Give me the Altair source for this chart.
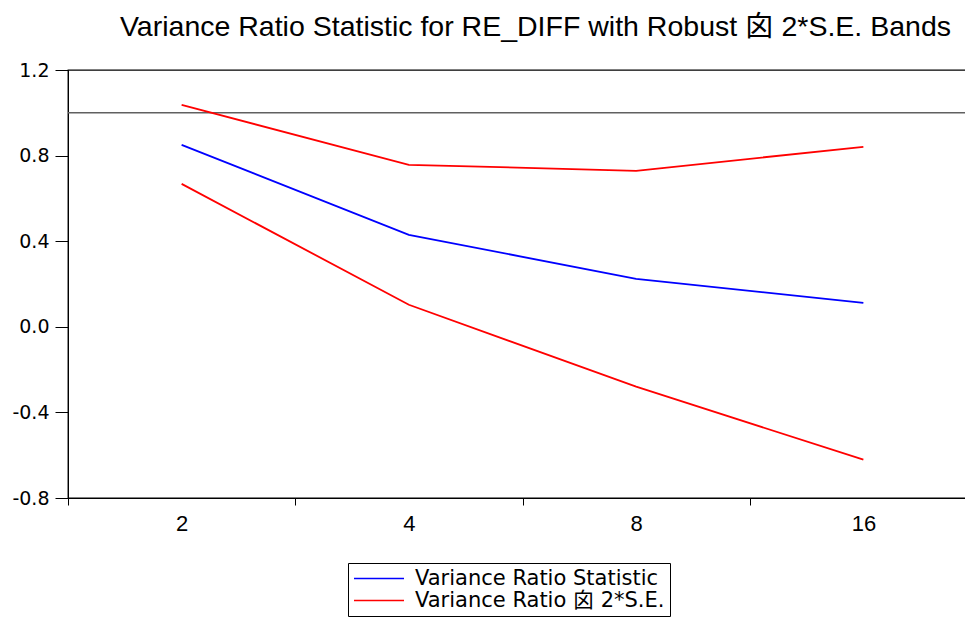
import altair as alt
import pandas as pd

lags = ["2", "4", "8", "16"]
vr_stat = [0.850, 0.430, 0.224, 0.112]
upper_band = [1.037, 0.757, 0.729, 0.841]
lower_band = [0.668, 0.103, -0.280, -0.621]

s_stat = "Variance Ratio Statistic"
s_band = "Variance Ratio 囟 2*S.E."
title_text = "Variance Ratio Statistic for RE_DIFF with Robust 囟 2*S.E. Bands"

rows = []
for i, lag in enumerate(lags):
    rows.append({"lag": lag, "value": vr_stat[i], "series": s_stat, "line": "stat"})
    rows.append({"lag": lag, "value": upper_band[i], "series": s_band, "line": "upper"})
    rows.append({"lag": lag, "value": lower_band[i], "series": s_band, "line": "lower"})
df = pd.DataFrame(rows)

xenc = alt.X(
    "lag:O",
    sort=lags,
    scale=alt.Scale(paddingInner=0, paddingOuter=0),
    axis=alt.Axis(
        title=None,
        labelAngle=0,
        tickBand="extent",
        tickSize=7,
        tickColor="black",
        domainColor="black",
        labelFont="Liberation Sans",
        labelFontSize=22,
        labelColor="black",
        labelPadding=8,
    ),
)

yenc = alt.Y(
    "value:Q",
    scale=alt.Scale(domain=[-0.8, 1.2], nice=False, zero=False),
    axis=alt.Axis(
        title=None,
        values=[-0.8, -0.4, 0.0, 0.4, 0.8, 1.2],
        labelExpr="datum.value < 0 ? '-' + format(abs(datum.value), '.1f') : format(datum.value, '.1f')",
        tickSize=13,
        tickColor="black",
        domainColor="black",
        grid=False,
        labelFont="DejaVu Sans",
        labelFontSize=19,
        labelColor="black",
        labelPadding=6,
    ),
)

lines = alt.Chart(df).mark_line(strokeWidth=1.8).encode(
    x=xenc,
    y=yenc,
    color=alt.Color(
        "series:N",
        scale=alt.Scale(domain=[s_stat, s_band], range=["#0000FF", "#FF0000"]),
        legend=alt.Legend(
            title=None,
            orient="none",
            legendX=280,
            legendY=493,
            symbolType="stroke",
            symbolSize=2500,
            symbolStrokeWidth=1.5,
            clipHeight=21,
            labelFont="DejaVu Sans, Noto Sans CJK SC",
            labelFontSize=21,
            labelColor="black",
            labelOffset=10,
            rowPadding=0,
            padding=5,
            strokeColor="black",
            fillColor="white",
            labelLimit=400,
        ),
    ),
    detail="line:N",
)

ref_rule = alt.Chart(pd.DataFrame({"y": [1.0]})).mark_rule(color="#606060", strokeWidth=1.5).encode(
    y=alt.Y("y:Q")
)

chart = (
    alt.layer(ref_rule, lines)
    .properties(
        width=909,
        height=428,
        background="white",
        autosize=alt.AutoSizeParams(type="none"),
        padding={"left": 60, "top": 62, "right": -12, "bottom": 121},
        title=alt.TitleParams(
            title_text,
            font="Liberation Sans, Noto Sans CJK SC",
            fontSize=28.5,
            fontWeight="normal",
            color="black",
            anchor="middle",
            dx=13,
            offset=20,
        ),
    )
    .configure_view(stroke="black", strokeWidth=1.3)
)

chart.save("out.html", embed_options={"renderer": "svg", "actions": False})
